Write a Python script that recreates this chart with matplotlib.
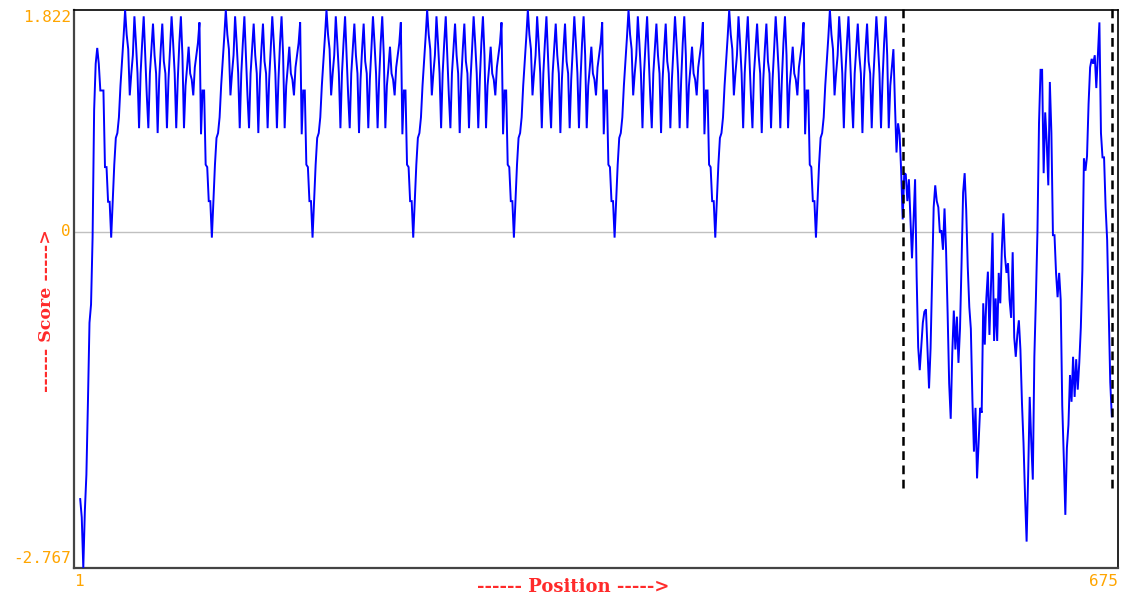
import numpy as np
import matplotlib
matplotlib.use("Agg")
import matplotlib.pyplot as plt

# Sliding-window score profile (window centres run from residue 5 to 671)
seq_length = 675
first_pos = 5

# N-terminal stretch before the first repeat (residues 5-24)
n_term = [-2.20, -2.35, -2.767, -2.30, -2.00, -1.40, -0.75, -0.60, -0.05, 1.00,
          1.38, 1.51, 1.38, 1.16, 1.16, 1.16, 0.53, 0.53, 0.245, 0.245]

# One 65-residue tandem repeat unit of the profile
repeat_unit = [-0.05, 0.25, 0.55, 0.77, 0.81, 0.94, 1.20, 1.40, 1.60, 1.822,
               1.62, 1.50, 1.12, 1.30, 1.45, 1.77, 1.55, 1.30, 0.85, 1.30,
               1.55, 1.77, 1.45, 1.12, 0.85, 1.30, 1.50, 1.71, 1.45, 1.30,
               0.81, 1.25, 1.50, 1.71, 1.40, 1.30, 0.85, 1.25, 1.50, 1.77,
               1.55, 1.30, 0.85, 1.25, 1.55, 1.77, 1.45, 0.85, 1.20, 1.35,
               1.52, 1.30, 1.25, 1.12, 1.35, 1.45, 1.55, 1.72, 0.80, 1.16,
               1.16, 0.55, 0.53, 0.25, 0.25]
full_repeats = 7
partial_repeat_len = 50

# C-terminal stretch (residues 530-671)
c_term = [1.50, 1.05, 0.65, 0.89, 0.80, 0.50, 0.10, 0.48, 0.47, 0.25,
          0.43, 0.10, -0.22, 0.09, 0.43, -0.37, -0.95, -1.14, -0.95, -0.75,
          -0.66, -0.64, -0.96, -1.29, -0.96, -0.40, 0.20, 0.38, 0.25, 0.20,
          -0.01, 0.01, -0.15, 0.19, -0.15, -0.67, -1.25, -1.54, -1.00, -0.65,
          -0.97, -0.70, -1.08, -0.80, -0.26, 0.32, 0.48, 0.18, -0.29, -0.62,
          -0.80, -1.38, -1.81, -1.45, -2.03, -1.74, -1.45, -1.49, -0.59, -0.93,
          -0.55, -0.33, -0.85, -0.45, -0.01, -0.90, -0.55, -0.90, -0.34, -0.59,
          -0.15, 0.15, -0.20, -0.34, -0.26, -0.56, -0.71, -0.17, -0.87, -1.03,
          -0.85, -0.73, -0.97, -1.41, -1.74, -2.18, -2.55, -2.00, -1.36, -1.73,
          -2.04, -1.03, -0.55, 0.00, 0.89, 1.33, 1.33, 0.48, 0.98, 0.73,
          0.38, 1.23, 0.81, -0.03, -0.03, -0.34, -0.54, -0.34, -0.56, -1.43,
          -1.86, -2.33, -1.78, -1.59, -1.18, -1.40, -1.03, -1.36, -1.05, -1.30,
          -1.08, -0.79, -0.32, 0.60, 0.50, 0.62, 1.05, 1.35, 1.42, 1.38,
          1.45, 1.18, 1.45, 1.72, 0.81, 0.61, 0.61, 0.20, -0.07, -0.66,
          -1.24, -1.52]

# Region boundaries marked with dashed lines
marker_positions = [536, 671]

y_max = 1.822
y_min = -2.767
y_tick_labels = ["1.822", "0", "-2.767"]
x_tick_labels = ["1", "675"]
x_label = "------ Position ----->"
y_label = "------ Score ----->"

scores = np.array(n_term + repeat_unit * full_repeats
                  + repeat_unit[:partial_repeat_len] + c_term)
positions = np.arange(first_pos, first_pos + len(scores))

W, H = 1124, 598
fig = plt.figure(figsize=(W / 100, H / 100), dpi=100)
ax = fig.add_axes([74 / W, 1 - 568 / H, (1118 - 74) / W, (568 - 10) / H])
ax.set_xlim(1, seq_length)
ax.set_ylim(y_min, y_max)

ax.axhline(0, color="#c0c0c0", lw=1.0, zorder=1)
ax.plot(positions, scores, color="#0000ff", lw=1.4, zorder=3,
        solid_joinstyle="miter")

for xp in marker_positions:
    ax.plot([xp, xp], [-2.11, 1.863], color="black", lw=1.8,
            linestyle=(0, (3.5, 2.2)), clip_on=False, zorder=4)

for side in ["left", "bottom"]:
    ax.spines[side].set_color("#444444")
    ax.spines[side].set_linewidth(1.6)
for side in ["top", "right"]:
    ax.spines[side].set_color("black")
    ax.spines[side].set_linewidth(1.2)

ax.set_xticks([])
ax.set_yticks([])

tick_font = dict(family="DejaVu Sans Mono", fontsize=11.5, color="#ffa500")
ax.text(-0.003, 1.0, y_tick_labels[0], transform=ax.transAxes,
        ha="right", va="top", **tick_font)
ax.text(-0.003, 0, y_tick_labels[1], transform=ax.get_yaxis_transform(),
        ha="right", va="center", **tick_font)
ax.text(-0.003, 0.004, y_tick_labels[2], transform=ax.transAxes,
        ha="right", va="bottom", **tick_font)
ax.text(0.0, -0.01, x_tick_labels[0], transform=ax.transAxes,
        ha="left", va="top", **tick_font)
ax.text(1.0, -0.01, x_tick_labels[1], transform=ax.transAxes,
        ha="right", va="top", **tick_font)

label_font = dict(family="DejaVu Serif", color="#ff2a2a", fontweight="bold")
fig.text(573 / W, 1 - 587 / H, x_label, ha="center", va="center",
         fontsize=13, **label_font)
fig.text(47 / W, 1 - 311 / H, y_label, ha="center", va="center",
         rotation=90, fontsize=12.5, **label_font)

fig.savefig("out.png", dpi=100, facecolor="white")
